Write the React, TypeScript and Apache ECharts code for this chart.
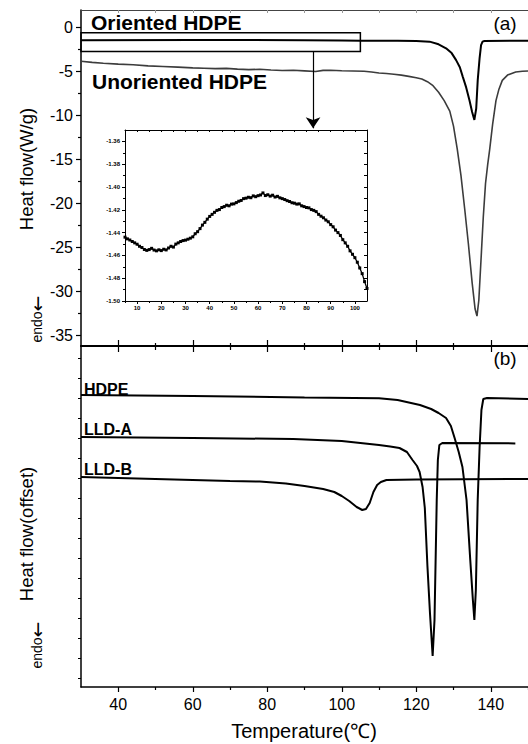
import React, { useEffect, useRef } from "react";
import * as echarts from "echarts";

const FONT = "'Liberation Sans', Arial, Helvetica, sans-serif";

// ---------- Panel (a): Heat flow (W/g) ----------
const orientedTemps = [30, 60, 90, 100, 105, 110, 115, 120, 123.6, 126, 128, 129.5, 130.7, 131.7, 132.5, 133.4, 134.3, 135, 135.6, 136.1, 136.5, 137, 137.4, 137.8, 138.3, 150];
const orientedFlow = [-1.44, -1.41, -1.43, -1.46, -1.49, -1.5, -1.5, -1.53, -1.6, -1.9, -2.35, -2.9, -3.7, -4.5, -5.6, -6.8, -8.3, -9.6, -10.5, -9.2, -6.0, -3.5, -2.0, -1.6, -1.52, -1.5];

const unorientedTemps = [30, 33, 36, 40, 44, 48, 52, 56, 60, 63, 66, 69, 72, 75, 78, 81, 84, 87, 90, 93, 95, 97, 100, 103, 106, 108, 110, 112, 114, 116, 118, 120, 121.5, 123, 124.5, 126, 127.5, 129, 130, 131, 132, 133, 134, 135, 135.8, 136.3, 136.8, 137.5, 138, 138.6, 139.2, 139.7, 140.5, 141.4, 142.2, 143.1, 144.5, 146.7, 148.5, 150];
const unorientedFlow = [-3.83, -3.95, -4.05, -4.15, -4.22, -4.35, -4.42, -4.5, -4.58, -4.62, -4.66, -4.64, -4.72, -4.78, -4.74, -4.82, -4.88, -4.85, -4.92, -5.0, -4.86, -4.85, -4.9, -4.93, -4.97, -5.05, -5.16, -5.22, -5.3, -5.4, -5.55, -5.7, -5.85, -6.15, -6.6, -7.35, -8.3, -9.5, -11.2, -13.8, -16.8, -20.6, -24.6, -29.0, -32.0, -32.8, -31.0, -25.5, -21.5, -17.7, -15.5, -13.9, -11.0, -8.3, -7.0, -6.0, -5.4, -5.05, -4.97, -4.93];

// zoomed box (data coordinates) and arrow
const boxTemps = [30, 105];
const boxFlow = [-0.6, -2.73];
const arrowTemp = 92.3;
const arrowFlow = [-2.73, -11.45];

// ---------- Inset: oriented HDPE 5-105 °C ----------
const insetStartTemp = 5;
const insetFlow = [
  -1.444, -1.4455, -1.4465, -1.4478, -1.449, -1.4502, -1.452, -1.4531, -1.4548, -1.4556,
  -1.4549, -1.4538, -1.4553, -1.456, -1.4551, -1.4558, -1.4546, -1.4552, -1.4535, -1.452,
  -1.4527, -1.4501, -1.449, -1.4478, -1.447, -1.4466, -1.4458, -1.4449, -1.4437, -1.441,
  -1.4392, -1.4365, -1.4334, -1.431, -1.4282, -1.4258, -1.424, -1.4222, -1.4205, -1.4198,
  -1.418, -1.4172, -1.416, -1.4165, -1.415, -1.4148, -1.4137, -1.4125, -1.4118, -1.4102,
  -1.4098, -1.409, -1.4094, -1.4078, -1.4085, -1.4076, -1.407, -1.4052, -1.4075, -1.4068,
  -1.408, -1.4072, -1.4088, -1.4082, -1.4095, -1.4102, -1.411, -1.412, -1.4127, -1.4138,
  -1.4142, -1.415, -1.4148, -1.4165, -1.4172, -1.418, -1.4183, -1.4198, -1.4205, -1.4216,
  -1.424, -1.4256, -1.427, -1.429, -1.4305, -1.433, -1.4349, -1.4378, -1.44, -1.4425,
  -1.4462, -1.449, -1.452, -1.456, -1.459, -1.462, -1.466, -1.471, -1.476, -1.483, -1.489,
];

// ---------- Panel (b): Heat flow (offset) ----------
const hdpeTemps = [30, 60, 90, 110, 115, 121, 124, 126, 128, 129.3, 130.3, 131.4, 132.4, 133.5, 134.5, 135.2, 135.6, 136, 136.5, 137, 137.5, 138, 139, 150];
const hdpeFlow = [14.15, 14.1, 14.03, 13.99, 13.9, 13.65, 13.45, 13.25, 13.0, 12.6, 12.0, 11.3, 10.55, 8.9, 5.9, 3.9, 2.9, 4.4, 8.9, 11.5, 13.4, 13.95, 14.0, 13.95];

const lldaTemps = [30, 60, 87, 100, 110, 113, 115.5, 117.5, 119, 120.2, 120.9, 121.7, 122.3, 123, 123.7, 124.4, 124.9, 125.2, 125.5, 125.8, 126.2, 127, 146.6];
const lldaFlow = [12.05, 12.0, 11.95, 11.85, 11.65, 11.58, 11.5, 11.3, 10.9, 10.6, 10.3, 9.55, 8.5, 5.6, 3.2, 1.1, 2.9, 5.9, 8.9, 10.9, 11.65, 11.75, 11.73];

const lldbTemps = [30, 40, 50, 60, 70, 78, 85, 90, 95, 98, 100, 102, 104, 105.5, 106.5, 107.5, 108.5, 109.5, 110.5, 112, 120, 150];
const lldbFlow = [10.05, 10.0, 9.95, 9.9, 9.85, 9.82, 9.73, 9.6, 9.45, 9.3, 9.1, 8.85, 8.55, 8.4, 8.45, 8.75, 9.3, 9.65, 9.8, 9.9, 9.93, 9.95];

// ---------- Tick values ----------
const tempTicks = [40, 60, 80, 100, 120, 140];
const tempMinorTicks = [50, 70, 90, 110, 130, 150];
const tempTopTicks = [40, 50, 60, 70, 80, 90, 100, 110, 120, 130, 140];
const flowTicksA = [-35, -30, -25, -20, -15, -10, -5, 0];
const flowMinorTicksA = [-32.5, -27.5, -22.5, -17.5, -12.5, -7.5, -2.5];
const offsetTicksB = [0, 1, 2, 3, 4, 5, 6, 7, 8, 9, 10, 11, 12, 13, 14, 15, 16];
const insetTempTicks = [10, 20, 30, 40, 50, 60, 70, 80, 90, 100];
const insetTempMinorTicks = [5, 15, 25, 35, 45, 55, 65, 75, 85, 95];
const insetTopTicks = [10, 15, 20, 25, 30, 35, 40, 45, 50, 55, 60, 65, 70, 75, 80, 85, 90, 95, 100];
const insetFlowTicks = [-1.5, -1.48, -1.46, -1.44, -1.42, -1.4, -1.38, -1.36];
const insetFlowMinorTicks = [-1.49, -1.47, -1.45, -1.43, -1.41, -1.39, -1.37];
const insetRightTicks = [-1.49, -1.48, -1.47, -1.46, -1.45, -1.44, -1.43, -1.42, -1.41, -1.4, -1.39, -1.38, -1.37, -1.36];

const zip = (xs: number[], ys: number[]) => xs.map((x, i) => [x, ys[i]]);

const BLACK = "#000";

function xAx(grid: number, position: string, min: number, max: number, ticks: number[], len: number, extra: any = {}) {
  return {
    type: "value",
    gridIndex: grid,
    position,
    min,
    max,
    axisLine: { show: extra.line !== false, onZero: false, lineStyle: { color: extra.lineColor || BLACK, width: extra.lineWidth || 1.5 } },
    axisTick: { show: true, customValues: ticks, length: len, inside: !!extra.inside, lineStyle: { color: extra.tickColor || BLACK, width: extra.tickWidth || 1.2 } },
    axisLabel: extra.labels
      ? { show: true, customValues: extra.labels, color: BLACK, fontSize: extra.fontSize || 16, fontFamily: FONT, fontWeight: extra.fontWeight || "normal", margin: extra.margin || 8, formatter: extra.formatter }
      : { show: false },
    splitLine: { show: false },
  };
}

const endoText = (x: number, y: number) => ({
  type: "text",
  x,
  y,
  rotation: Math.PI / 2,
  z: 100,
  style: {
    text: "{e|endo}{a|\u2190}",
    align: "center",
    verticalAlign: "middle",
    fill: BLACK,
    rich: {
      e: { fontFamily: FONT, fontSize: 14, fill: BLACK },
      a: { fontFamily: "DejaVu Sans", fontSize: 19, fill: BLACK },
    },
  },
});

export default function App() {
  const ref = useRef<HTMLDivElement>(null);

  useEffect(() => {
    if (!ref.current) return;
    const chart = echarts.init(ref.current, null, { renderer: "svg" });

    const insetData = insetFlow.map((v, i) => [insetStartTemp + i, v]);

    const option: any = {
      animation: false,
      backgroundColor: "#fff",
      textStyle: { fontFamily: FONT },
      grid: [
        { left: 81, top: 10, right: 0, height: 336, containLabel: false },
        { left: 81, top: 346, right: 0, height: 341, containLabel: false },
        { left: 125, top: 130, width: 242, height: 171, containLabel: false },
      ],
      xAxis: [
        xAx(0, "bottom", 30, 150, tempTicks, 6, { lineWidth: 2 }),
        xAx(0, "bottom", 30, 150, tempMinorTicks, 4, { line: false }),
        xAx(0, "top", 30, 150, tempTopTicks, 3, { inside: true, lineColor: "#444", lineWidth: 1, tickColor: "#999", tickWidth: 1 }),
        xAx(1, "top", 30, 150, tempTicks, 6, { line: false }),
        xAx(1, "top", 30, 150, tempMinorTicks, 3, { line: false }),
        xAx(1, "bottom", 30, 150, tempTicks, 5, { labels: tempTicks, fontSize: 16, margin: 9 }),
        xAx(1, "bottom", 30, 150, tempMinorTicks, 3, { line: false }),
        xAx(2, "bottom", 5, 105, insetTempTicks, 3, { lineWidth: 1, tickWidth: 1, labels: insetTempTicks, fontSize: 6, fontWeight: "bold", margin: 4 }),
        xAx(2, "bottom", 5, 105, insetTempMinorTicks, 2, { line: false, tickWidth: 1 }),
        xAx(2, "top", 5, 105, insetTopTicks, 2, { inside: true, lineWidth: 1, tickWidth: 1 }),
      ],
      yAxis: [
        xAx(0, "left", -36.2, 2, flowTicksA, 5, { lineWidth: 1.5, labels: flowTicksA, fontSize: 16, margin: 8 }),
        xAx(0, "left", -36.2, 2, flowMinorTicksA, 3, { line: false }),
        xAx(1, "left", -0.45, 16.6, offsetTicksB, 3, { lineWidth: 1.5, tickWidth: 1 }),
        xAx(2, "left", -1.5, -1.35, insetFlowTicks, 3, {
          lineWidth: 1, tickWidth: 1, labels: insetFlowTicks, fontSize: 6, fontWeight: "bold", margin: 5,
          formatter: (v: number) => v.toFixed(2),
        }),
        xAx(2, "left", -1.5, -1.35, insetFlowMinorTicks, 2, { line: false, tickWidth: 1 }),
        xAx(2, "right", -1.5, -1.35, insetRightTicks, 3, { inside: true, lineWidth: 1, tickWidth: 1 }),
      ],
      series: [
        {
          name: "Oriented HDPE",
          type: "line",
          xAxisIndex: 0,
          yAxisIndex: 0,
          data: zip(orientedTemps, orientedFlow),
          showSymbol: false,
          lineStyle: { color: BLACK, width: 2 },
          itemStyle: { color: BLACK },
          z: 5,
          markArea: {
            silent: true,
            itemStyle: { color: "rgba(0,0,0,0)", borderColor: BLACK, borderWidth: 1.5 },
            label: { show: false },
            data: [[{ coord: [boxTemps[0], boxFlow[0]] }, { coord: [boxTemps[1], boxFlow[1]] }]],
          },
          markLine: {
            silent: true,
            symbol: ["none", "arrow"],
            symbolSize: 11,
            label: { show: false },
            lineStyle: { color: BLACK, width: 1.2, type: "solid" },
            itemStyle: { color: BLACK },
            data: [[{ coord: [arrowTemp, arrowFlow[0]] }, { coord: [arrowTemp, arrowFlow[1]] }]],
          },
        },
        {
          name: "Unoriented HDPE",
          type: "line",
          xAxisIndex: 0,
          yAxisIndex: 0,
          data: zip(unorientedTemps, unorientedFlow),
          showSymbol: false,
          lineStyle: { color: "#3c3c3c", width: 1.6 },
          itemStyle: { color: "#3c3c3c" },
        },
        {
          name: "Inset",
          type: "line",
          xAxisIndex: 7,
          yAxisIndex: 3,
          data: insetData,
          showSymbol: true,
          showAllSymbol: true,
          symbol: "rect",
          symbolSize: 3,
          lineStyle: { color: BLACK, width: 1.3 },
          itemStyle: { color: BLACK },
        },
        {
          name: "HDPE",
          type: "line",
          xAxisIndex: 5,
          yAxisIndex: 2,
          data: zip(hdpeTemps, hdpeFlow),
          showSymbol: false,
          lineStyle: { color: BLACK, width: 2 },
        },
        {
          name: "LLD-A",
          type: "line",
          xAxisIndex: 5,
          yAxisIndex: 2,
          data: zip(lldaTemps, lldaFlow),
          showSymbol: false,
          lineStyle: { color: BLACK, width: 2 },
        },
        {
          name: "LLD-B",
          type: "line",
          xAxisIndex: 5,
          yAxisIndex: 2,
          data: zip(lldbTemps, lldbFlow),
          showSymbol: false,
          lineStyle: { color: BLACK, width: 2 },
        },
      ],
      graphic: [
        { type: "text", x: 91, y: 22, z: 100, style: { text: "Oriented HDPE", font: `bold 21px ${FONT}`, fill: BLACK, align: "left", verticalAlign: "middle" } },
        { type: "text", x: 92, y: 81, z: 100, style: { text: "Unoriented HDPE", font: `bold 21px ${FONT}`, fill: BLACK, align: "left", verticalAlign: "middle" } },
        { type: "text", x: 505, y: 23, z: 100, style: { text: "(a)", font: `19px ${FONT}`, fill: BLACK, align: "center", verticalAlign: "middle" } },
        { type: "text", x: 505, y: 358, z: 100, style: { text: "(b)", font: `19px ${FONT}`, fill: BLACK, align: "center", verticalAlign: "middle" } },
        { type: "text", x: 84, y: 389, z: 100, style: { text: "HDPE", font: `bold 16px ${FONT}`, fill: BLACK, align: "left", verticalAlign: "middle" } },
        { type: "text", x: 84, y: 429, z: 100, style: { text: "LLD-A", font: `bold 16px ${FONT}`, fill: BLACK, align: "left", verticalAlign: "middle" } },
        { type: "text", x: 84, y: 469, z: 100, style: { text: "LLD-B", font: `bold 16px ${FONT}`, fill: BLACK, align: "left", verticalAlign: "middle" } },
        { type: "text", x: 26, y: 169, rotation: Math.PI / 2, z: 100, style: { text: "Heat flow(W/g)", font: `18.5px ${FONT}`, fill: BLACK, align: "center", verticalAlign: "middle" } },
        endoText(37, 319),
        { type: "text", x: 26, y: 534, rotation: Math.PI / 2, z: 100, style: { text: "Heat flow(offset)", font: `18.5px ${FONT}`, fill: BLACK, align: "center", verticalAlign: "middle" } },
        endoText(37, 645),
        { type: "text", x: 304, y: 731, z: 100, style: { text: "Temperature(\u2103)", font: `20px ${FONT}`, fill: BLACK, align: "center", verticalAlign: "middle" } },
      ],
    };

    chart.setOption(option);
    return () => chart.dispose();
  }, []);

  return (
    <div
      ref={ref}
      style={{ position: "fixed", left: 0, top: 0, width: 528, height: 744, background: "#fff" }}
    />
  );
}
